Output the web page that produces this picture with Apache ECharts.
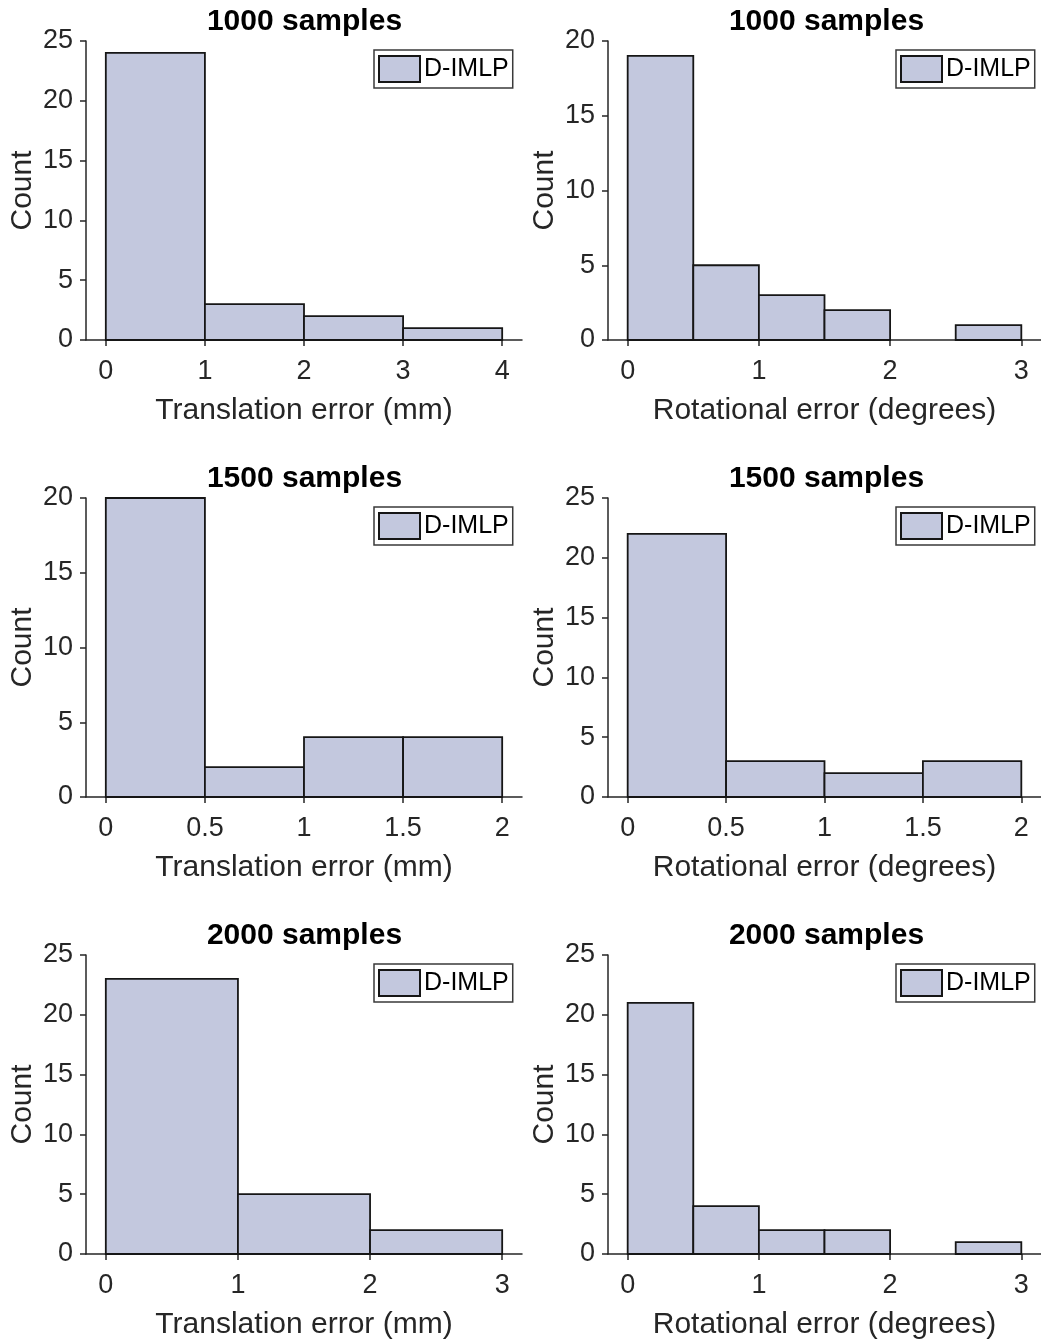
<!DOCTYPE html>
<html>
<head>
<meta charset="utf-8">
<title>D-IMLP error histograms</title>
<script src="https://cdn.jsdelivr.net/npm/echarts@6/dist/echarts.min.js"></script>
<style>
  html, body { margin: 0; padding: 0; background: #fff; }
  #chart { width: 1041px; height: 1344px; }
</style>
</head>
<body>
<div id="chart"></div>
<script>
// Histogram bin edges and counts, one pair per panel
const trans1000Edges = [0, 1, 2, 3, 4];
const trans1000Counts = [24, 3, 2, 1];
const rot1000Edges = [0, 0.5, 1, 1.5, 2, 2.5, 3];
const rot1000Counts = [19, 5, 3, 2, 0, 1];

const trans1500Edges = [0, 0.5, 1, 1.5, 2];
const trans1500Counts = [20, 2, 4, 4];
const rot1500Edges = [0, 0.5, 1, 1.5, 2];
const rot1500Counts = [22, 3, 2, 3];

const trans2000Edges = [0, 1, 2, 3];
const trans2000Counts = [23, 5, 2];
const rot2000Edges = [0, 0.5, 1, 1.5, 2, 2.5, 3];
const rot2000Counts = [21, 4, 2, 2, 0, 1];

// Tick values
const ticks0to4 = [0, 1, 2, 3, 4];
const ticks0to3 = [0, 1, 2, 3];
const ticksHalf0to2 = [0, 0.5, 1, 1.5, 2];

const panelTitles = ['1000 samples', '1000 samples', '1500 samples', '1500 samples', '2000 samples', '2000 samples'];
const transLabel = 'Translation error (mm)';
const rotLabel = 'Rotational error (degrees)';
const countLabel = 'Count';
const seriesName = 'D-IMLP';

const panels = [
  { edges: trans1000Edges, counts: trans1000Counts, xTicks: ticks0to4, yMax: 25, xName: transLabel },
  { edges: rot1000Edges, counts: rot1000Counts, xTicks: ticks0to3, yMax: 20, xName: rotLabel },
  { edges: trans1500Edges, counts: trans1500Counts, xTicks: ticksHalf0to2, yMax: 20, xName: transLabel },
  { edges: rot1500Edges, counts: rot1500Counts, xTicks: ticksHalf0to2, yMax: 25, xName: rotLabel },
  { edges: trans2000Edges, counts: trans2000Counts, xTicks: ticks0to3, yMax: 25, xName: transLabel },
  { edges: rot2000Edges, counts: rot2000Counts, xTicks: ticks0to3, yMax: 25, xName: rotLabel }
];

const FONT = "'Liberation Sans', Arial, Helvetica, sans-serif";
const AXIS_COLOR = '#262626';
const FILL = '#c3c8de';
const EDGE = '#161616';

const colLeft = [86, 608];
const rowTop = [41, 498, 955];
const gridW = 436, gridH = 299;
const titleCenter = [304.5, 826.5];

const grids = [], xAxes = [], yAxes = [], series = [], titles = [], legends = [];

panels.forEach(function (p, i) {
  const col = i % 2, row = Math.floor(i / 2);
  grids.push({ left: colLeft[col], top: rowTop[row], width: gridW, height: gridH });

  const lo = p.edges[0], hi = p.edges[p.edges.length - 1];
  const pad = (hi - lo) * 0.05;

  xAxes.push({
    type: 'value', gridIndex: i, min: lo - pad, max: hi + pad,
    name: p.xName, nameLocation: 'middle', nameGap: 56,
    nameTextStyle: { fontSize: 30, color: AXIS_COLOR, fontFamily: FONT },
    axisLine: { show: true, onZero: false, lineStyle: { color: AXIS_COLOR, width: 1.5 } },
    axisTick: { show: true, length: 6, customValues: p.xTicks, lineStyle: { color: AXIS_COLOR, width: 1.5 } },
    axisLabel: { customValues: p.xTicks, margin: 18, fontSize: 27, color: AXIS_COLOR, fontFamily: FONT },
    splitLine: { show: false }
  });

  yAxes.push({
    type: 'value', gridIndex: i, min: 0, max: p.yMax, interval: 5,
    name: countLabel, nameLocation: 'middle', nameGap: 48,
    nameTextStyle: { fontSize: 30, color: AXIS_COLOR, fontFamily: FONT },
    axisLine: { show: true, onZero: false, lineStyle: { color: AXIS_COLOR, width: 1.5 } },
    axisTick: { show: true, length: 6, lineStyle: { color: AXIS_COLOR, width: 1.5 } },
    axisLabel: { margin: 13, fontSize: 27, color: AXIS_COLOR, fontFamily: FONT },
    splitLine: { show: false }
  });

  const data = p.counts.map(function (c, k) { return [p.edges[k], p.edges[k + 1], c]; });

  series.push({
    type: 'custom', name: seriesName, xAxisIndex: i, yAxisIndex: i,
    data: data,
    encode: { x: [0, 1], y: 2 },
    itemStyle: { color: FILL, borderColor: EDGE, borderWidth: 1.8 },
    renderItem: function (params, api) {
      const count = api.value(2);
      if (!count) return null;
      const topLeft = api.coord([api.value(0), count]);
      const bottomRight = api.coord([api.value(1), 0]);
      return {
        type: 'rect',
        shape: {
          x: topLeft[0], y: topLeft[1],
          width: bottomRight[0] - topLeft[0],
          height: bottomRight[1] - topLeft[1]
        },
        style: { fill: FILL, stroke: EDGE, lineWidth: 1.8 }
      };
    }
  });

  titles.push({
    text: panelTitles[i], left: titleCenter[col], top: rowTop[row] - 34, textAlign: 'center', padding: 0,
    textStyle: { fontSize: 30, fontWeight: 'bold', color: '#000', fontFamily: FONT }
  });

  legends.push({
    data: [seriesName],
    left: colLeft[col] + 288, top: rowTop[row] + 9,
    padding: [5, 4, 5, 4],
    borderColor: '#3a3a3a', borderWidth: 1.5, backgroundColor: '#fff',
    itemWidth: 41, itemHeight: 26,
    icon: 'rect', selectedMode: false,
    itemStyle: { color: FILL, borderColor: EDGE, borderWidth: 2 },
    textStyle: { fontSize: 25, color: '#000', fontFamily: FONT, padding: [2, 0, 0, -1] }
  });
});

const chart = echarts.init(document.getElementById('chart'), null, { renderer: 'canvas' });
chart.setOption({
  animation: false,
  backgroundColor: '#fff',
  title: titles,
  legend: legends,
  grid: grids,
  xAxis: xAxes,
  yAxis: yAxes,
  series: series
});
</script>
</body>
</html>
